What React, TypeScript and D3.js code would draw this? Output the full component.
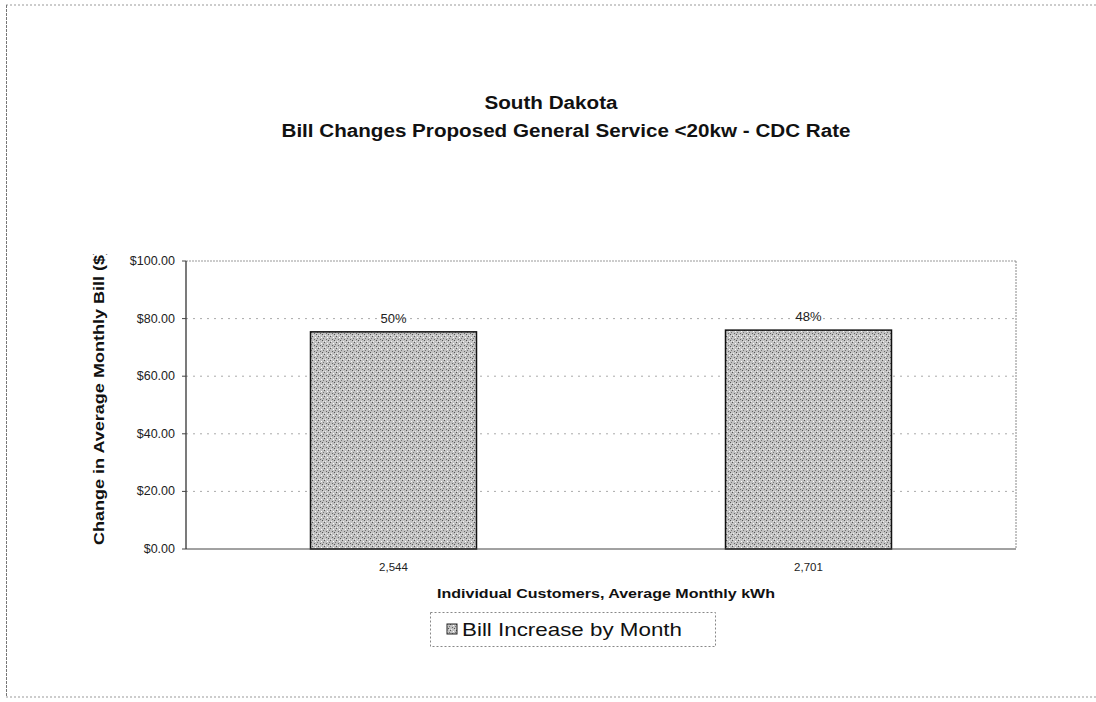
import React from "react";
import * as d3 from "d3";

// Average monthly kWh per customer group (x categories)
const categories = ["2,544", "2,701"];
// Change in average monthly bill, dollars
const billIncrease = [75.4, 76.0];
// Percent increase labels shown above each bar
const percentLabels = ["50%", "48%"];
// Y-axis ticks
const yTicks = [0, 20, 40, 60, 80, 100];

const W = 1096;
const H = 702;
const plot = { left: 186, right: 1016, top: 261, bottom: 549 };
const FONT = "'Liberation Sans', Arial, sans-serif";

export default function App() {
  const x = d3
    .scaleBand<string>()
    .domain(categories)
    .range([plot.left, plot.right])
    .paddingInner(0.6)
    .paddingOuter(0.3);
  const y = d3.scaleLinear().domain([0, 100]).range([plot.bottom, plot.top]);
  const money = d3.format("$,.2f");

  return (
    <svg
      width={W}
      height={H}
      style={{ position: "absolute", left: 0, top: 0, background: "#fff" }}
      fontFamily={FONT}
    >
      <defs>
        <pattern id="stipple" width="6" height="6" patternUnits="userSpaceOnUse">
          <rect width="6" height="6" fill="#c2c2c2" />
          <rect x="0" y="0" width="1" height="1" fill="#555" />
          <rect x="3" y="1" width="1" height="1" fill="#fff" />
          <rect x="2" y="3" width="1" height="1" fill="#666" />
          <rect x="5" y="2" width="1" height="1" fill="#777" />
          <rect x="1" y="5" width="1" height="1" fill="#eee" />
          <rect x="4" y="4" width="1" height="1" fill="#555" />
          <rect x="5" y="5" width="1" height="1" fill="#ddd" />
        </pattern>
        <clipPath id="ytitleClip">
          <rect x={0} y={254} width={150} height={400} />
        </clipPath>
      </defs>

      {/* outer frame */}
      <line x1={6} y1={5} x2={W} y2={5} stroke="#999" strokeDasharray="2 2" strokeWidth={1} />
      <line x1={6} y1={697} x2={W} y2={697} stroke="#999" strokeDasharray="2 2" strokeWidth={1} />
      <line x1={6.5} y1={5} x2={6.5} y2={697} stroke="#777" strokeDasharray="3 1" strokeWidth={1} />

      {/* title */}
      <text
        x={551}
        y={109}
        textAnchor="middle"
        fontSize={18}
        fontWeight="bold"
        fill="#111"
        textLength={133}
        lengthAdjust="spacingAndGlyphs"
      >
        South Dakota
      </text>
      <text
        x={566}
        y={137}
        textAnchor="middle"
        fontSize={18}
        fontWeight="bold"
        fill="#111"
        textLength={569}
        lengthAdjust="spacingAndGlyphs"
      >
        Bill Changes Proposed General Service &lt;20kw - CDC Rate
      </text>

      {/* gridlines */}
      {yTicks.slice(1, -1).map((t) => (
        <line
          key={t}
          x1={plot.left}
          x2={plot.right}
          y1={y(t)}
          y2={y(t)}
          stroke="#aaa"
          strokeDasharray="2 5"
          strokeWidth={1}
        />
      ))}
      {/* plot frame */}
      <line x1={plot.left} x2={plot.right} y1={plot.top} y2={plot.top} stroke="#999" strokeDasharray="2 1" />
      <line x1={plot.right} x2={plot.right} y1={plot.top} y2={plot.bottom} stroke="#888" strokeDasharray="2 1" />

      {/* bars */}
      {categories.map((c, i) => (
        <g key={c}>
          <rect
            x={x(c)}
            y={y(billIncrease[i])}
            width={x.bandwidth()}
            height={y(0) - y(billIncrease[i])}
            fill="url(#stipple)"
            stroke="#111"
            strokeWidth={1.5}
          />
          <text
            x={(x(c) as number) + x.bandwidth() / 2}
            y={y(billIncrease[i]) - 9}
            textAnchor="middle"
            fontSize={13}
            fill="#222"
          >
            {percentLabels[i]}
          </text>
          <text
            x={(x(c) as number) + x.bandwidth() / 2}
            y={571}
            textAnchor="middle"
            fontSize={11.5}
            fill="#222"
          >
            {c}
          </text>
        </g>
      ))}

      {/* axes */}
      <line x1={plot.left} x2={plot.right} y1={plot.bottom} y2={plot.bottom} stroke="#444" strokeWidth={1} />
      <line x1={plot.left} x2={plot.left} y1={plot.top} y2={plot.bottom} stroke="#222" strokeWidth={1.2} />
      {yTicks.map((t) => (
        <g key={t}>
          <line x1={plot.left - 4} x2={plot.left} y1={y(t)} y2={y(t)} stroke="#444" />
          <text x={175} y={y(t) + 4} textAnchor="end" fontSize={12.5} fill="#222">
            {money(t)}
          </text>
        </g>
      ))}

      {/* y-axis title */}
      <g clipPath="url(#ytitleClip)">
        <text
          transform={`translate(104, 397) rotate(-90)`}
          textAnchor="middle"
          fontSize={15}
          fontWeight="bold"
          fill="#111"
          textLength={296}
          lengthAdjust="spacingAndGlyphs"
        >
          Change in Average Monthly Bill ($)
        </text>
      </g>

      {/* x-axis title */}
      <text
        x={606}
        y={598}
        textAnchor="middle"
        fontSize={13}
        fontWeight="bold"
        fill="#111"
        textLength={338}
        lengthAdjust="spacingAndGlyphs"
      >
        Individual Customers, Average Monthly kWh
      </text>

      {/* legend */}
      <rect x={430.5} y={612.5} width={285} height={34} fill="none" stroke="#888" strokeDasharray="2 2" />
      <rect x={447} y={624} width={10} height={10} fill="url(#stipple)" stroke="#222" strokeWidth={1} />
      <text
        x={462}
        y={636}
        fontSize={19}
        fill="#111"
        textLength={220}
        lengthAdjust="spacingAndGlyphs"
      >
        Bill Increase by Month
      </text>
    </svg>
  );
}
